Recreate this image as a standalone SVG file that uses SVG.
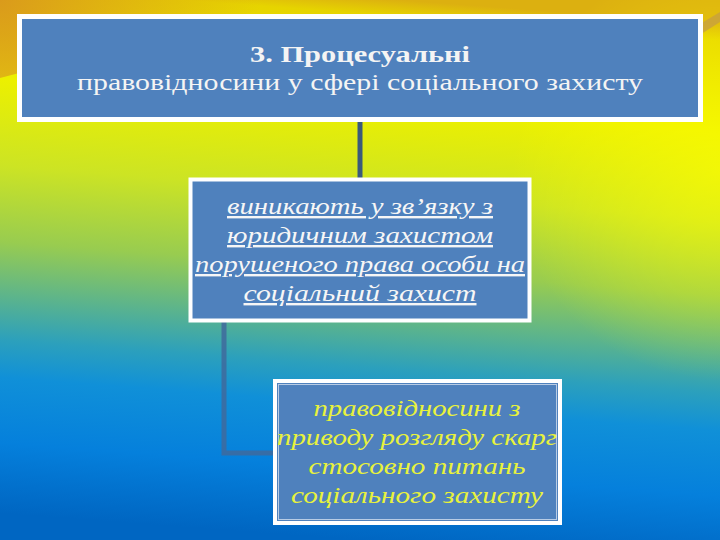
<svg xmlns="http://www.w3.org/2000/svg" width="720" height="540" viewBox="0 0 720 540">
<defs>
<linearGradient id="bg" gradientUnits="userSpaceOnUse" x1="400" y1="0" x2="360" y2="540">
<stop offset="0" stop-color="#dcb010"/>
<stop offset="0.03" stop-color="#e6d400"/>
<stop offset="0.2" stop-color="#ecf000"/>
<stop offset="0.36" stop-color="#cce424"/>
<stop offset="0.5" stop-color="#98cc50"/>
<stop offset="0.6" stop-color="#5cb48c"/>
<stop offset="0.68" stop-color="#2ca0bc"/>
<stop offset="0.75" stop-color="#1090d8"/>
<stop offset="0.87" stop-color="#0580dc"/>
<stop offset="1" stop-color="#0066c2"/>
</linearGradient>
<radialGradient id="tl" gradientUnits="userSpaceOnUse" cx="0" cy="0" r="260">
<stop offset="0" stop-color="#d89020" stop-opacity="0.85"/>
<stop offset="1" stop-color="#d89020" stop-opacity="0"/>
</radialGradient>
<radialGradient id="tr" gradientUnits="userSpaceOnUse" cx="720" cy="170" r="210">
<stop offset="0" stop-color="#ffff00" stop-opacity="0.6"/>
<stop offset="1" stop-color="#ffff00" stop-opacity="0"/>
</radialGradient>
</defs>
<style>
.box{fill:#4f81bd;stroke:#ffffff}
.inner{fill:none;stroke:#ffffff;stroke-opacity:0.6;stroke-width:1}
.title{font-family:"Liberation Serif","DejaVu Serif",serif;fill:#f4f4f4;text-anchor:middle}
.it{font-family:"Liberation Serif","DejaVu Serif",serif;font-style:italic;text-anchor:middle;font-size:24px}
.w{fill:#f6f6f6;text-decoration:underline}
.y{fill:#e8f23c}
</style>
<rect x="0" y="0" width="720" height="540" fill="url(#bg)"/>
<rect x="0" y="0" width="720" height="540" fill="url(#tr)"/>
<polygon points="0,0 300,0 0,78" fill="url(#tl)"/>
<polygon points="690,30 720,12 720,22 695,38" fill="#c8a040" opacity="0.8"/>
<g id="connectors">
<line x1="360" y1="122" x2="360" y2="178" stroke="#3a5a7a" stroke-width="5"/>
<polyline points="224,322 224,453 273,453" fill="none" stroke="#3f6a9c" stroke-opacity="0.85" stroke-width="5"/>
</g>
<g id="node-title">
<rect class="box" x="19.5" y="16.5" width="681" height="103" stroke-width="5"/>
<text class="title" x="360" y="62" font-size="23" font-weight="bold" textLength="220" lengthAdjust="spacingAndGlyphs">3. Процесуальні</text>
<text class="title" x="360" y="90" font-size="24" textLength="566" lengthAdjust="spacingAndGlyphs">правовідносини у сфері соціального захисту</text>
</g>
<g id="node-arise">
<rect class="box" x="190.5" y="179.5" width="339" height="141" stroke-width="4"/>
<text class="it w" x="360" y="214" textLength="266" lengthAdjust="spacingAndGlyphs">виникають у зв’язку з</text>
<text class="it w" x="360" y="243" textLength="266" lengthAdjust="spacingAndGlyphs">юридичним захистом</text>
<text class="it w" x="360" y="272" textLength="330" lengthAdjust="spacingAndGlyphs">порушеного права особи на</text>
<text class="it w" x="360" y="301" textLength="233" lengthAdjust="spacingAndGlyphs">соціальний захист</text>
</g>
<g id="node-complaints">
<rect class="box" x="275" y="381" width="285" height="142" stroke-width="4"/>
<rect class="inner" x="278.5" y="384.5" width="278" height="135"/>
<text class="it y" x="417" y="416" textLength="207" lengthAdjust="spacingAndGlyphs">правовідносини з</text>
<text class="it y" x="417" y="445" textLength="280" lengthAdjust="spacingAndGlyphs">приводу розгляду скарг</text>
<text class="it y" x="417" y="474" textLength="217" lengthAdjust="spacingAndGlyphs">стосовно питань</text>
<text class="it y" x="417" y="503" textLength="252" lengthAdjust="spacingAndGlyphs">соціального захисту</text>
</g>
</svg>
